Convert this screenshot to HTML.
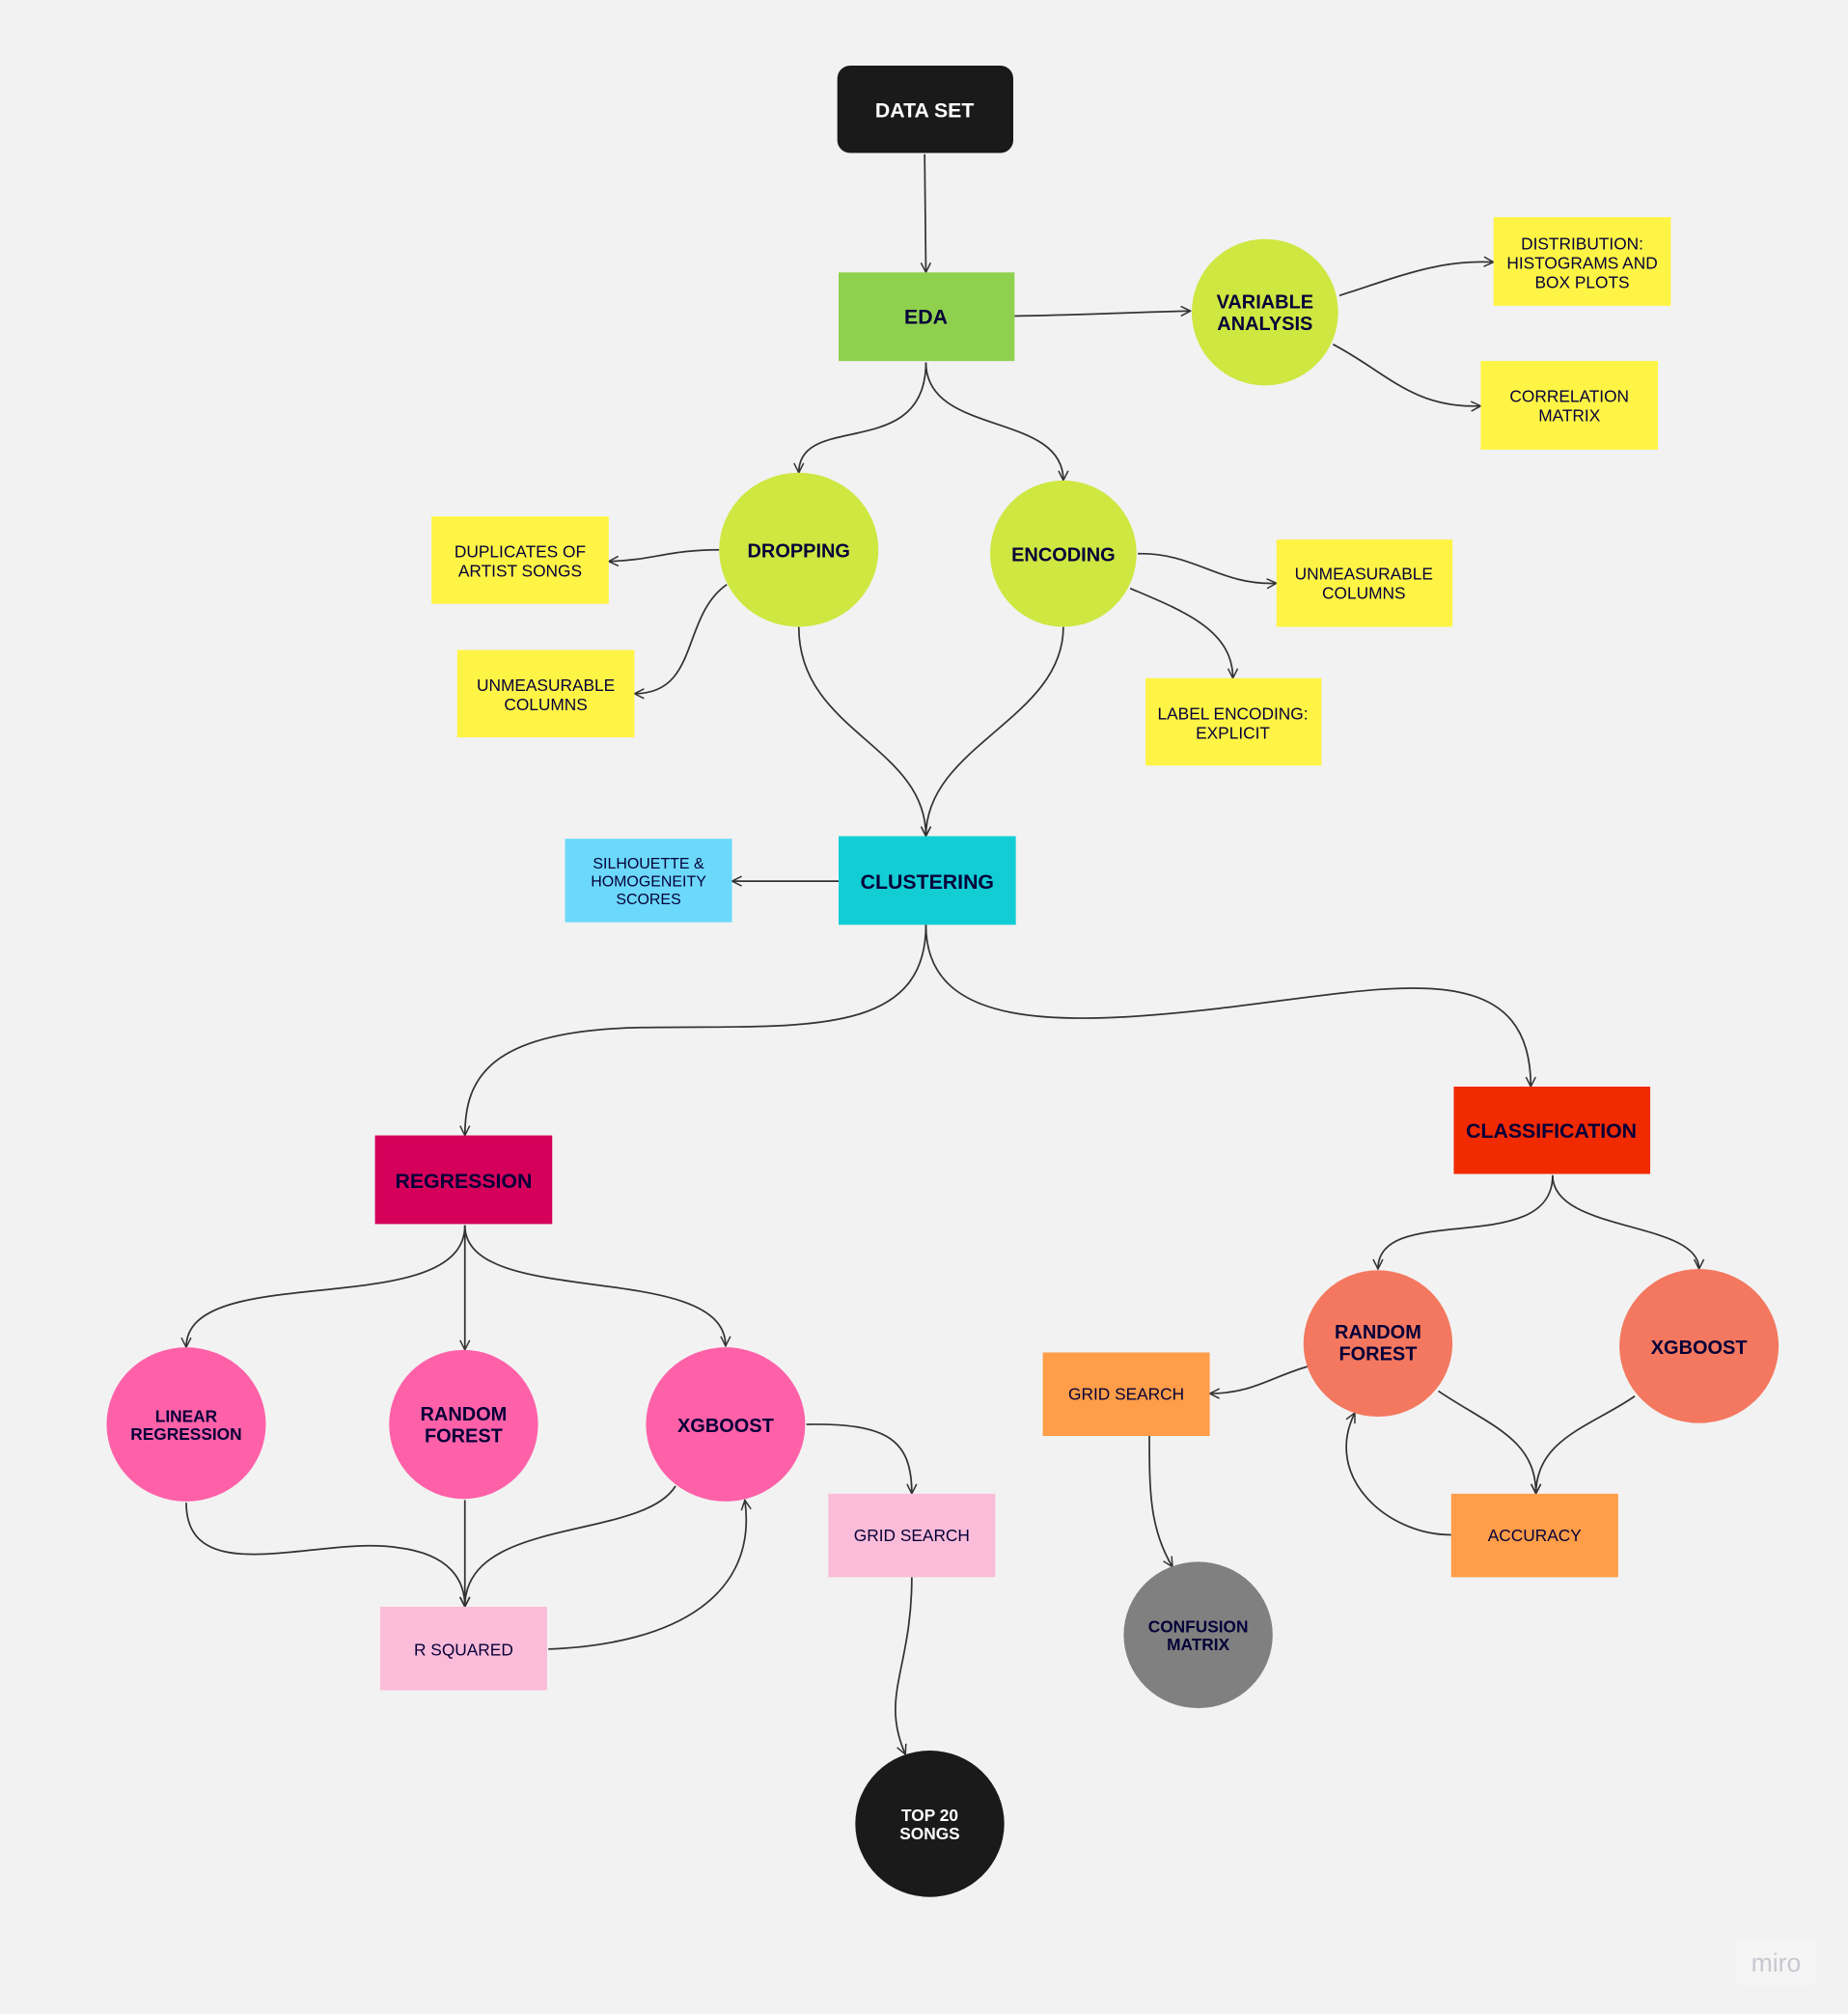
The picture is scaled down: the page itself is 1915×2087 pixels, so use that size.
<!DOCTYPE html>
<html><head><meta charset="utf-8"><style>
html,body{margin:0;padding:0;background:#f2f2f2;}
svg{display:block;}
text{font-family:"Liberation Sans",Arial,sans-serif;text-anchor:middle;fill:#050038;}
.b{font-weight:bold;}
path.c{fill:none;stroke:#333;stroke-width:1.3;marker-end:url(#a);}
</style></head><body>
<svg width="1915" height="2087" viewBox="0 0 1439 1568" xmlns="http://www.w3.org/2000/svg">
<defs><marker id="a" viewBox="0 0 12 12" refX="11" refY="6" markerWidth="9" markerHeight="9" orient="auto" markerUnits="userSpaceOnUse"><path d="M1,1 L11,6 L1,11" fill="none" stroke="#333" stroke-width="1.5"/></marker></defs>
<rect width="1439" height="1568" fill="#f2f2f2"/>

<!-- connectors -->
<path class="c" d="M720,120 L721,212"/>
<path class="c" d="M790,246 C850,245 880,243 927,242"/>
<path class="c" d="M1043,230 C1090,215 1120,202 1163,204"/>
<path class="c" d="M1038,268 C1080,290 1100,318 1153,316"/>
<path class="c" d="M721,282 C721,360 622,320 622,368"/>
<path class="c" d="M721,282 C721,340 828,320 828,374"/>
<path class="c" d="M560,428 C520,428 510,436 474,437"/>
<path class="c" d="M566,455 C530,480 545,540 494,540"/>
<path class="c" d="M886,431 C930,430 950,456 994,454"/>
<path class="c" d="M880,458 C920,475 960,490 960,528"/>
<path class="c" d="M622,488 C622,570 721,580 721,651"/>
<path class="c" d="M828,488 C828,560 721,580 721,651"/>
<path class="c" d="M653,686 L570,686"/>
<path class="c" d="M721,720 C721,810 620,798 500,800 C380,802 362,840 362,884"/>
<path class="c" d="M721,720 C721,800 820,800 950,785 C1080,770 1192,740 1192,846"/>
<path class="c" d="M362,954 C362,1030 145,980 145,1049"/>
<path class="c" d="M362,954 L362,1051"/>
<path class="c" d="M362,954 C362,1020 565,980 565,1048"/>
<path class="c" d="M145,1170 C145,1240 250,1195 310,1205 C350,1210 362,1230 362,1251"/>
<path class="c" d="M362,1168 L362,1251"/>
<path class="c" d="M526,1157 C500,1200 362,1180 362,1251"/>
<path class="c" d="M427,1284 C530,1280 590,1240 580,1168"/>
<path class="c" d="M628,1109 C690,1108 710,1120 710,1163"/>
<path class="c" d="M710,1228 C710,1300 685,1320 705,1366"/>
<path class="c" d="M1209,915 C1209,980 1073,935 1073,988"/>
<path class="c" d="M1209,915 C1209,960 1323,950 1323,988"/>
<path class="c" d="M1018,1064 C990,1072 975,1085 942,1085"/>
<path class="c" d="M1120,1083 C1160,1110 1196,1120 1196,1163"/>
<path class="c" d="M1273,1087 C1240,1110 1196,1120 1196,1163"/>
<path class="c" d="M1130,1195 C1080,1195 1030,1150 1055,1100"/>
<path class="c" d="M895,1118 C895,1160 895,1190 913,1220"/>

<!-- nodes -->
<rect x="652" y="51" width="137" height="68" rx="10" fill="#1a1a1a"/>
<text x="720" y="91" class="b" font-size="16" style="fill:#fff">DATA SET</text>

<rect x="653" y="212" width="137" height="69" fill="#8fd14f"/>
<text x="721" y="252" class="b" font-size="16">EDA</text>

<ellipse cx="985" cy="243" rx="57" ry="57" fill="#cee741"/>
<text x="985" y="240" class="b" font-size="15">VARIABLE</text>
<text x="985" y="257" class="b" font-size="15">ANALYSIS</text>

<rect x="1163" y="169" width="138" height="69" fill="#fef445"/>
<text x="1232" y="194" font-size="13">DISTRIBUTION:</text>
<text x="1232" y="209" font-size="13">HISTOGRAMS AND</text>
<text x="1232" y="224" font-size="13">BOX PLOTS</text>

<rect x="1153" y="281" width="138" height="69" fill="#fef445"/>
<text x="1222" y="313" font-size="13">CORRELATION</text>
<text x="1222" y="328" font-size="13">MATRIX</text>

<ellipse cx="622" cy="428" rx="62" ry="60" fill="#cee741"/>
<text x="622" y="434" class="b" font-size="15">DROPPING</text>

<ellipse cx="828" cy="431" rx="57" ry="57" fill="#cee741"/>
<text x="828" y="437" class="b" font-size="15">ENCODING</text>

<rect x="336" y="402" width="138" height="68" fill="#fef445"/>
<text x="405" y="434" font-size="13">DUPLICATES OF</text>
<text x="405" y="449" font-size="13">ARTIST SONGS</text>

<rect x="356" y="506" width="138" height="68" fill="#fef445"/>
<text x="425" y="538" font-size="13">UNMEASURABLE</text>
<text x="425" y="553" font-size="13">COLUMNS</text>

<rect x="994" y="420" width="137" height="68" fill="#fef445"/>
<text x="1062" y="451" font-size="13">UNMEASURABLE</text>
<text x="1062" y="466" font-size="13">COLUMNS</text>

<rect x="892" y="528" width="137" height="68" fill="#fef445"/>
<text x="960" y="560" font-size="13">LABEL ENCODING:</text>
<text x="960" y="575" font-size="13">EXPLICIT</text>

<rect x="653" y="651" width="138" height="69" fill="#12cdd4"/>
<text x="722" y="692" class="b" font-size="16">CLUSTERING</text>

<rect x="440" y="653" width="130" height="65" fill="#6cd8fa"/>
<text x="505" y="676" font-size="12">SILHOUETTE &amp;</text>
<text x="505" y="690" font-size="12">HOMOGENEITY</text>
<text x="505" y="704" font-size="12">SCORES</text>

<rect x="292" y="884" width="138" height="69" fill="#d5005a"/>
<text x="361" y="925" class="b" font-size="16">REGRESSION</text>

<rect x="1132" y="846" width="153" height="68" fill="#f22a00"/>
<text x="1208" y="886" class="b" font-size="16">CLASSIFICATION</text>

<ellipse cx="145" cy="1109" rx="62" ry="60" fill="#fe61a8"/>
<text x="145" y="1107" class="b" font-size="13">LINEAR</text>
<text x="145" y="1121" class="b" font-size="13">REGRESSION</text>

<ellipse cx="361" cy="1109" rx="58" ry="58" fill="#fe61a8"/>
<text x="361" y="1106" class="b" font-size="15">RANDOM</text>
<text x="361" y="1123" class="b" font-size="15">FOREST</text>

<ellipse cx="565" cy="1109" rx="62" ry="60" fill="#fe61a8"/>
<text x="565" y="1115" class="b" font-size="15">XGBOOST</text>

<rect x="645" y="1163" width="130" height="65" fill="#fbbcd9"/>
<text x="710" y="1200" font-size="13">GRID SEARCH</text>

<rect x="296" y="1251" width="130" height="65" fill="#fbbcd9"/>
<text x="361" y="1289" font-size="13">R SQUARED</text>

<ellipse cx="724" cy="1420" rx="58" ry="57" fill="#1a1a1a"/>
<text x="724" y="1418" class="b" font-size="13" style="fill:#fff">TOP 20</text>
<text x="724" y="1432" class="b" font-size="13" style="fill:#fff">SONGS</text>

<ellipse cx="1073" cy="1046" rx="58" ry="57" fill="#f3785f"/>
<text x="1073" y="1042" class="b" font-size="15">RANDOM</text>
<text x="1073" y="1059" class="b" font-size="15">FOREST</text>

<ellipse cx="1323" cy="1048" rx="62" ry="60" fill="#f3785f"/>
<text x="1323" y="1054" class="b" font-size="15">XGBOOST</text>

<rect x="812" y="1053" width="130" height="65" fill="#ff9d48"/>
<text x="877" y="1090" font-size="13">GRID SEARCH</text>

<rect x="1130" y="1163" width="130" height="65" fill="#ff9d48"/>
<text x="1195" y="1200" font-size="13">ACCURACY</text>

<ellipse cx="933" cy="1273" rx="58" ry="57" fill="#808080"/>
<text x="933" y="1271" class="b" font-size="13">CONFUSION</text>
<text x="933" y="1285" class="b" font-size="13">MATRIX</text>

<rect x="1352" y="1510" width="62" height="36" rx="4" fill="#f5f5f5"/>
<text x="1383" y="1535" font-size="20" style="fill:#c8c8d0">miro</text>
</svg>
</body></html>
